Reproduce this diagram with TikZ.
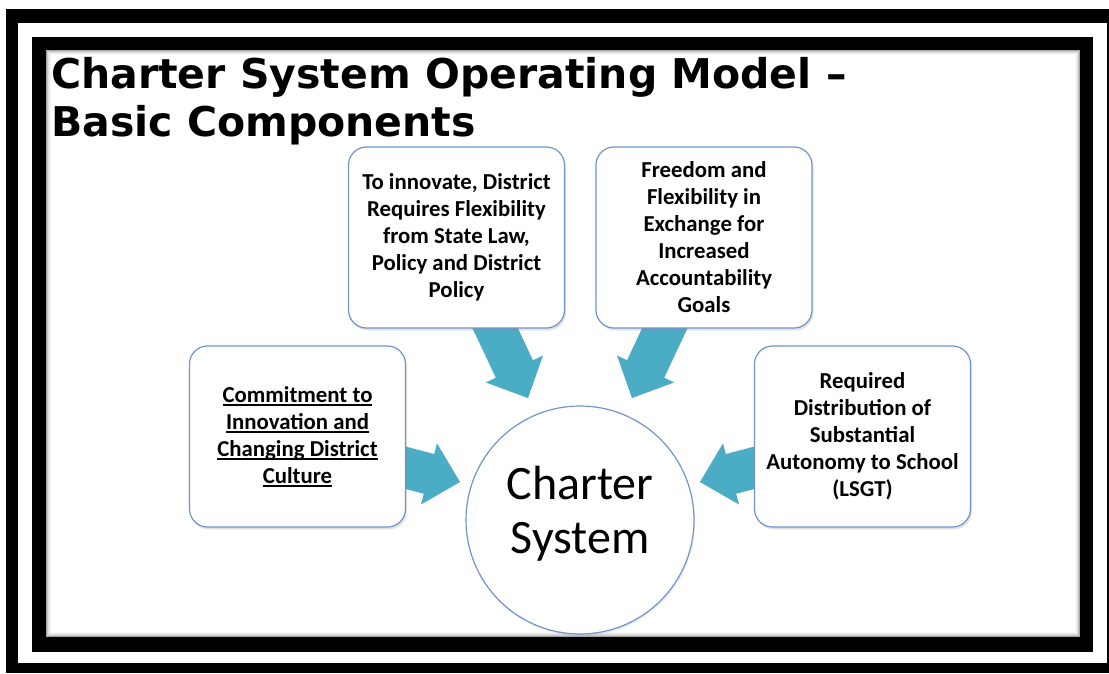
\documentclass[tikz,border=0pt]{standalone}
\usepackage{fontspec}
\usetikzlibrary{shadows,calc}
\newfontfamily\titlefont{DejaVu Sans}
\newfontfamily\boxfont{Carlito}
\definecolor{tealfill}{HTML}{4BACC6}
\definecolor{boxblue}{HTML}{7094CC}
\newcommand\lineul[1]{\setbox0\hbox{#1}\rlap{\rule[-3.2pt]{\wd0}{1.3pt}}\box0}
\pgfdeclarelayer{back}
\pgfdeclarelayer{mid}
\pgfsetlayers{back,mid,main}
\begin{document}
\begin{tikzpicture}[x=1pt,y=-1pt,
  comp/.style={rectangle, rounded corners=18pt, draw=boxblue, line width=1.2pt,
    fill=white, minimum width=216pt, minimum height=181pt, inner sep=0pt,
    align=center, font=\boxfont\bfseries\fontsize{22.8}{27}\selectfont,
    drop shadow={shadow xshift=1.5pt, shadow yshift=-2.5pt, opacity=0.22}},
  hub/.style={circle, draw=boxblue, line width=1.2pt, fill=white,
    minimum size=228pt, inner sep=0pt,
    drop shadow={shadow xshift=1pt, shadow yshift=-2pt, opacity=0.15}},
  hubtext/.style={align=center, inner sep=0pt, font=\boxfont\fontsize{48}{54}\selectfont},
  blockarrow/.style={fill=tealfill},
  blockshadow/.style={fill=black!12},
  titletext/.style={anchor=base west, inner sep=0pt, font=\titlefont\bfseries\fontsize{41}{48}\selectfont}
]
\useasboundingbox (0,0) rectangle (1109,673);

% frames
\begin{pgfonlayer}{back}
  \fill[black] (6,9) rectangle (1109,673);
  \fill[white] (18,23) rectangle (1107,663);
  \fill[black] (32,37) rectangle (1093,652);
  \fill[white] (46,50) rectangle (1080,637);
  \foreach \i/\o in {0.5/0.35,1.5/0.22,2.5/0.13,3.5/0.07,4.5/0.03}
    \draw[black, opacity=\o, line width=1pt] (46+\i,50+\i) rectangle (1080-\i,637-\i);
\end{pgfonlayer}

% title
\node[titletext] (title1) at (51,88) {Charter System Operating Model –};
\node[titletext] (title2) at (51,136) {Basic Components};

% component boxes
\node[comp] (req) at (456.5,237.5) {To innovate, District\\Requires Flexibility\\from State Law,\\Policy and District\\Policy};
\node[comp] (free) at (704,237.5) {Freedom and\\Flexibility in\\Exchange for\\Increased\\Accountability\\Goals};
\node[comp] (commit) at (297.5,436.5) {\lineul{Commitment to}\\\lineul{Innovation and}\\\lineul{Changing District}\\\lineul{Culture}};
\node[comp] (auto) at (862.5,436.5) {Required\\Distribution of\\Substantial\\Autonomy to School\\(LSGT)};

% central circle
\node[hub] (hub) at (580,520) {};
\node[hubtext] (hubt) at (580,514) {Charter\\System};

% arrow end points
\coordinate (reqtail) at ($(req.south)+(32.8,-13)$);
\coordinate (reqtip) at (528,398);
\coordinate (freetail) at ($(free.south)+(-33.3,-13)$);
\coordinate (freetip) at (632,398);
\coordinate (committail) at ($(commit.east)+(-11,28.5)$);
\coordinate (committip) at (460,482);
\coordinate (autotail) at ($(auto.west)+(11,28.5)$);
\coordinate (autotip) at (700,482);

\begin{pgfonlayer}{mid}
  \foreach \a in {req,free,commit,auto}{
    \coordinate (\a base) at ($(\a tip)!32pt!(\a tail)$);
    \foreach \sty/\dx/\dy in {blockshadow/1.5/2.5, blockarrow/0/0}{
      \fill[\sty, shift={(\dx,\dy)}]
        ($(\a tail)!20.5pt!90:(\a tip)$) --
        ($(\a base)!20.5pt!90:(\a tip)$) --
        ($(\a base)!31.5pt!90:(\a tip)$) --
        (\a tip) --
        ($(\a base)!31.5pt!-90:(\a tip)$) --
        ($(\a base)!20.5pt!-90:(\a tip)$) --
        ($(\a tail)!20.5pt!-90:(\a tip)$) -- cycle;
    }
  }
\end{pgfonlayer}
\end{tikzpicture}
\end{document}
